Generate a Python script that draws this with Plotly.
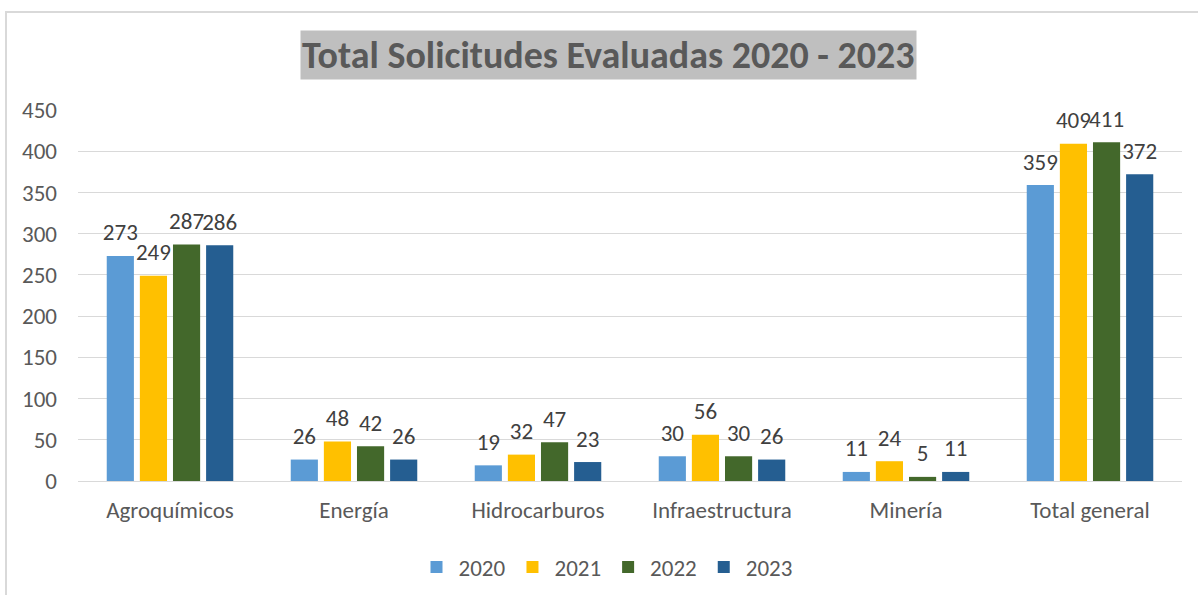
import plotly.graph_objects as go

categories = ["Agroquímicos", "Energía", "Hidrocarburos", "Infraestructura", "Minería", "Total general"]
years = ["2020", "2021", "2022", "2023"]
v2020 = [273, 26, 19, 30, 11, 359]
v2021 = [249, 48, 32, 56, 24, 409]
v2022 = [287, 42, 47, 30, 5, 411]
v2023 = [286, 26, 23, 26, 11, 372]
series = [v2020, v2021, v2022, v2023]
colors = ["#5b9bd5", "#ffc000", "#43682b", "#255e91"]
yticks = [0, 50, 100, 150, 200, 250, 300, 350, 400, 450]

FONT = "Carlito, Calibri, 'Open Sans', sans-serif"
GAP = 0.28

fig = go.Figure()
for y, vals, c in zip(years, series, colors):
    fig.add_trace(go.Bar(
        name=y, x=categories, y=vals, marker_color=c, marker_line_width=0,
        hoverinfo="skip",
    ))
for y, vals in zip(years, series):
    fig.add_trace(go.Scatter(
        x=categories, y=vals, mode="markers+text", text=[str(v) for v in vals],
        textposition="top center", marker=dict(size=14, opacity=0),
        textfont=dict(family=FONT, size=23, color="#404040"),
        showlegend=False, hoverinfo="skip", cliponaxis=False,
    ))

PW, PH = 1104, 371
fig.update_layout(
    width=1198, height=595,
    paper_bgcolor="white", plot_bgcolor="white",
    margin=dict(l=78, r=16, t=110, b=114, autoexpand=False),
    barmode="group", bargap=GAP, bargroupgap=0.18,
    scattermode="group", scattergap=GAP,
    font=dict(family=FONT, size=23, color="#595959"),
    showlegend=True,
    legend=dict(orientation="h", x=0.5 - 24 / PW, xanchor="center", y=-(567 - 481) / PH, yanchor="middle",
                font=dict(size=23, color="#595959"), itemwidth=34, traceorder="normal"),
    xaxis=dict(showgrid=False, showline=False, ticks="", tickfont=dict(size=23, color="#595959"),
               ticklabelstandoff=13),
    yaxis=dict(range=[0, 450], tickvals=yticks, showgrid=True, gridcolor="#d9d9d9", gridwidth=1,
               zeroline=True, zerolinecolor="#d9d9d9", zerolinewidth=1,
               tickfont=dict(size=23, color="#595959"), ticklabelstandoff=20),
    annotations=[dict(
        text="<b>Total Solicitudes Evaluadas 2020 - 2023</b>",
        xref="paper", yref="paper", x=(608 - 78) / PW, y=1 + (110 - 55) / PH,
        xanchor="center", yanchor="middle", showarrow=False,
        bgcolor="#bfbfbf", borderpad=1,
        font=dict(family=FONT, size=38, color="#595959"),
    )],
    shapes=[
        dict(type="line", xref="paper", yref="paper", x0=-(78 - 6) / PW, x1=-(78 - 6) / PW,
             y0=-114 / PH, y1=1 + (110 - 11) / PH, line=dict(color="#d9d9d9", width=2)),
        dict(type="line", xref="paper", yref="paper", x0=-(78 - 5) / PW, x1=1 + 16 / PW,
             y0=1 + (110 - 12) / PH, y1=1 + (110 - 12) / PH, line=dict(color="#d9d9d9", width=2)),
    ],
)

fig.write_html("out.html")
